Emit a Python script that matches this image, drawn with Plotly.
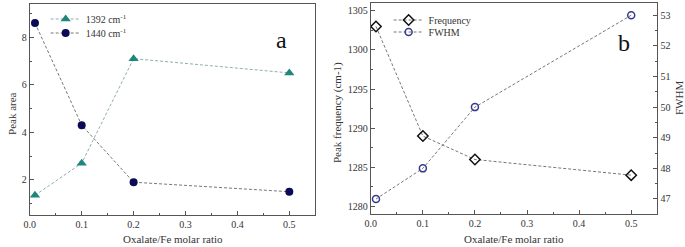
import plotly.graph_objects as go

ratio = [0.01, 0.1, 0.2, 0.5]
area_1392 = [1.35, 2.7, 7.1, 6.5]
area_1440 = [8.6, 4.3, 1.9, 1.5]
frequency = [1303, 1289, 1286, 1284]
fwhm = [47, 48, 50, 53]

FONT = "Liberation Serif"
AX = "#555555"
TXT = "#333333"
W, H = 685, 247

fig = go.Figure()
fig.add_trace(go.Scatter(x=ratio, y=area_1392, mode="lines+markers", name="1392 cm<sup>-1</sup>",
                         line=dict(color="#8fb0ad", width=1, dash="3px,2px"),
                         marker=dict(symbol="triangle-up", size=9, color="#20857a"),
                         xaxis="x", yaxis="y", legend="legend2"))
fig.add_trace(go.Scatter(x=ratio, y=area_1440, mode="lines+markers", name="1440 cm<sup>-1</sup>",
                         line=dict(color="#777777", width=1, dash="3px,2px"),
                         marker=dict(symbol="circle", size=8, color="#0a0a55"),
                         xaxis="x", yaxis="y", legend="legend3"))
fig.add_trace(go.Scatter(x=ratio, y=frequency, mode="lines+markers", name="Frequency",
                         line=dict(color="#777777", width=1, dash="3px,2px"),
                         marker=dict(symbol="diamond-open", size=8, color="#111111", line=dict(width=1.5)),
                         xaxis="x2", yaxis="y2", legend="legend4"))
fig.add_trace(go.Scatter(x=ratio, y=fwhm, mode="lines+markers", name="FWHM",
                         line=dict(color="#777777", width=1, dash="3px,2px"),
                         marker=dict(symbol="circle-open", size=7, color="#3a3a8c", line=dict(width=1.5)),
                         xaxis="x2", yaxis="y3", legend="legend5"))

def axis(**kw):
    d = dict(showgrid=False, zeroline=False, showline=True, linecolor=AX, linewidth=1.3,
             ticks="inside", ticklen=4, tickcolor=AX, tickwidth=1.2,
             tickfont=dict(family=FONT, size=10, color=TXT))
    d.update(kw)
    return d

def leg(px, py):
    return dict(x=px / W, y=1 - py / H, xanchor="left", yanchor="middle", bgcolor="rgba(0,0,0,0)",
                font=dict(family=FONT, size=10, color=TXT))

def ann(text, px, py, size=11, angle=0, color=TXT):
    return dict(text=text, x=px / W, y=1 - py / H, xref="paper", yref="paper", showarrow=False,
                textangle=angle, xanchor="center", yanchor="middle",
                font=dict(family=FONT, size=size, color=color))

fig.update_layout(
    width=W, height=H, margin=dict(l=0, r=0, t=0, b=0),
    paper_bgcolor="white", plot_bgcolor="white",
    xaxis=axis(domain=[24 / W, 312 / W], range=[0, 0.55], dtick=0.1, tickformat=".1f", mirror=True,
               anchor="y", minor=dict(dtick=0.05, ticks="inside", ticklen=2, tickcolor=AX)),
    yaxis=axis(domain=[1 - 215 / H, 1 - 4 / H], range=[0.52, 9.4], dtick=2, mirror=True, anchor="x",
               minor=dict(dtick=1, ticks="inside", ticklen=2, tickcolor=AX)),
    xaxis2=axis(domain=[368 / W, 657 / W], range=[0, 0.55], dtick=0.1, tickformat=".1f", mirror=True,
                anchor="y2", minor=dict(dtick=0.05, ticks="inside", ticklen=2, tickcolor=AX)),
    yaxis2=axis(domain=[1 - 214.3 / H, 1 - 3 / H], range=[1279, 1306], dtick=5, anchor="x2",
                minor=dict(dtick=2.5, ticks="inside", ticklen=2, tickcolor=AX)),
    yaxis3=axis(range=[46.5, 53.4], dtick=1, overlaying="y2", side="right", anchor="x2",
                minor=dict(dtick=0.5, ticks="inside", ticklen=2, tickcolor=AX)),
    legend2=leg(40, 19),
    legend3=leg(40, 33),
    legend4=leg(386, 20),
    legend5=leg(386, 32),
    annotations=[
        ann("a", 278, 40, size=24, color="#111111"),
        ann("b", 623, 43, size=24, color="#111111"),
        ann("Oxalate/Fe molar ratio", 168, 239),
        ann("Oxalate/Fe molar ratio", 512, 239),
        ann("Peak area", 6, 113, angle=-90),
        ann("Peak frequency (cm-1)", 334, 113, angle=-90),
        ann("FWHM", 679, 98, angle=-90),
    ],
)

fig.write_html("out.html", config={"displayModeBar": False},
               post_script="document.body.style.margin='0px';document.body.style.padding='0px';")
